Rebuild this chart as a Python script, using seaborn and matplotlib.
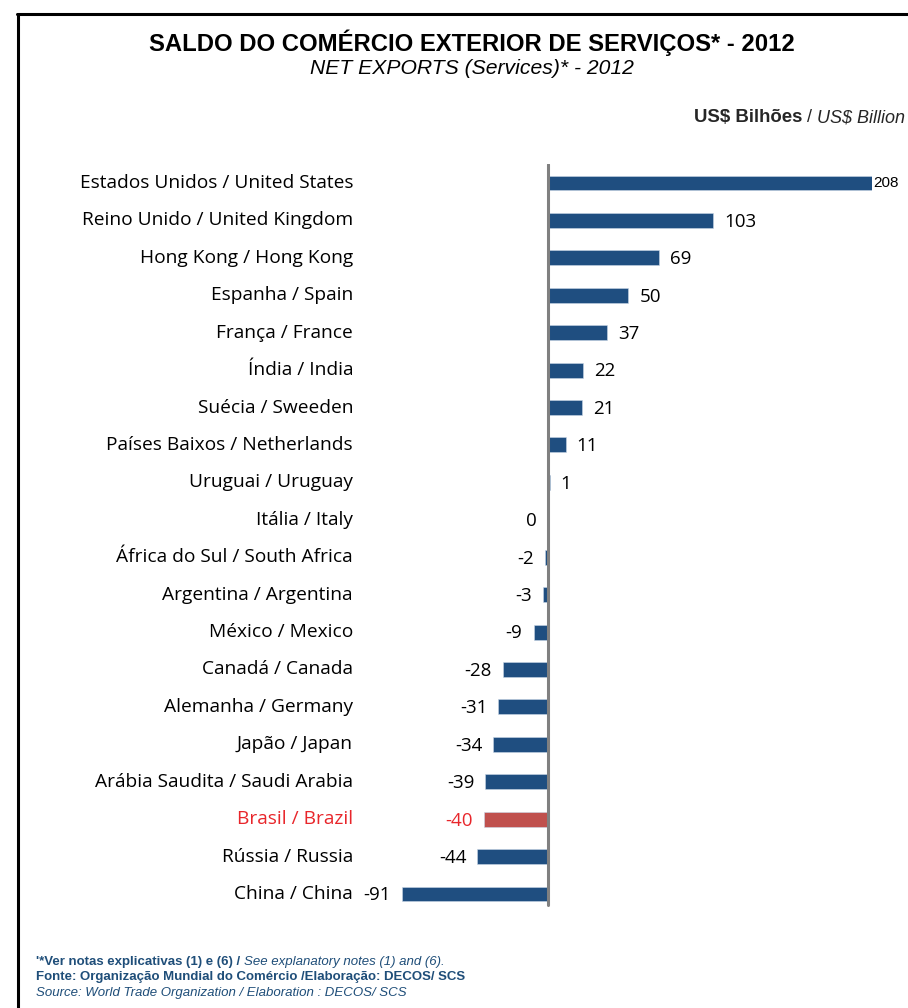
import matplotlib
matplotlib.use("Agg")
import matplotlib.pyplot as plt
import matplotlib.transforms as mtransforms
from matplotlib.lines import Line2D
import numpy as np
import pandas as pd
import seaborn as sns

countries = [
    "Estados Unidos / United States",
    "Reino Unido / United Kingdom",
    "Hong Kong / Hong Kong",
    "Espanha / Spain",
    "França / France",
    "Índia / India",
    "Suécia / Sweeden",
    "Países Baixos / Netherlands",
    "Uruguai / Uruguay",
    "Itália / Italy",
    "África do Sul / South Africa",
    "Argentina / Argentina",
    "México / Mexico",
    "Canadá / Canada",
    "Alemanha / Germany",
    "Japão / Japan",
    "Arábia Saudita / Saudi Arabia",
    "Brasil / Brazil",
    "Rússia / Russia",
    "China / China",
]
values = [208, 103, 69, 50, 37, 22, 21, 11, 1, 0, -2, -3, -9, -28, -31, -34, -39, -40, -44, -91]
highlight = "Brasil / Brazil"

title = "SALDO DO COMÉRCIO EXTERIOR DE SERVIÇOS* - 2012"
subtitle = "NET EXPORTS (Services)* - 2012"
unit_bold = "US$ Bilhões"
unit_sep = " / "
unit_ital = "US$ Billion"
note1_bold = "'*Ver notas explicativas (1) e (6) / "
note1_ital = "See explanatory notes (1) and (6)."
note2 = "Fonte: Organização Mundial do Comércio /Elaboração: DECOS/ SCS"
note3 = "Source: World Trade Organization / Elaboration : DECOS/ SCS"

BLUE = "#1F4E80"
RED_BAR = "#C0504D"
RED_TXT = "#E8262B"
NOTE_BLUE = "#1F4E79"

sns.set_theme(style="white")
plt.rcParams["font.family"] = ["Liberation Sans", "DejaVu Sans"]

W, H = 908, 1008
fig = plt.figure(figsize=(W / 100, H / 100), dpi=100)
fig.patch.set_facecolor("white")


def fx(px):
    return px / W


def fy(py):
    return 1 - py / H


# frame (left + top border)
fig.add_artist(Line2D([fx(18), fx(18)], [fy(14), fy(1010)], transform=fig.transFigure,
                      color="black", lw=2.2))
fig.add_artist(Line2D([fx(17), fx(910)], [fy(14), fy(14)], transform=fig.transFigure,
                      color="black", lw=2.2))

# axes placement: zero at x=548 px
xmin, xmax = -100, 201.7
scale = 1.605
L = 548 + xmin * scale
R = 548 + xmax * scale
top, bot = 164.3, 912.7
ax = fig.add_axes([fx(L), fy(bot), (R - L) / W, (bot - top) / H])

df = pd.DataFrame({"country": countries, "value": values})
df["group"] = np.where(df["country"] == highlight, "hl", "normal")
sns.barplot(data=df, x="value", y="country", hue="group",
            palette={"normal": BLUE, "hl": RED_BAR}, orient="h",
            width=0.40, dodge=False, legend=False, ax=ax, saturation=1,
            edgecolor="#c9d6e6", linewidth=0.4)

ax.set_xlim(xmin, xmax)
ax.set_ylim(len(countries) - 0.5, -0.5)
for s in ax.spines.values():
    s.set_visible(False)
ax.set_xticks([])
ax.set_yticks([])
ax.set_xlabel("")
ax.set_ylabel("")
ax.set_facecolor("none")
ax.axvline(0, color="#808080", lw=2.2, ymin=0.01, ymax=1.0)

# category labels
lab_font = "Open Sans"
trans = mtransforms.blended_transform_factory(fig.transFigure, ax.transData)
for i, c in enumerate(countries):
    col = RED_TXT if c == highlight else "black"
    ax.text(fx(353), i, c, transform=trans, ha="right", va="center",
            fontsize=13.8, color=col, family=lab_font)

# value labels
for i, (c, v) in enumerate(zip(countries, values)):
    col = RED_TXT if c == highlight else "black"
    if v > 0:
        if v > xmax:
            ax.annotate(str(v), (xmax, i), xytext=(1, 0), textcoords="offset points",
                        ha="left", va="center", fontsize=11, color=col,
                        family="Liberation Sans", annotation_clip=False)
        else:
            ax.annotate(str(v), (v, i), xytext=(8, -1), textcoords="offset points",
                        ha="left", va="center", fontsize=13.5, color=col, family=lab_font)
    else:
        ax.annotate(str(v), (v, i), xytext=(-8, -1), textcoords="offset points",
                    ha="right", va="center", fontsize=13.5, color=col, family=lab_font)

# titles
fig.text(fx(472), fy(43), title, ha="center", va="center", fontsize=17.2,
         fontweight="bold", color="black")
fig.text(fx(472), fy(68), subtitle, ha="center", va="center", fontsize=15.2,
         fontstyle="italic", color="black")

# unit line (right aligned, mixed styles)
renderer = fig.canvas.get_renderer()
t3 = fig.text(fx(905), fy(118), unit_ital, ha="right", va="center", fontsize=13,
              fontstyle="italic")
bb = t3.get_window_extent(renderer)
t2 = fig.text(bb.x0 / W, fy(118), unit_sep, ha="right", va="center", fontsize=13)
bb = t2.get_window_extent(renderer)
fig.text(bb.x0 / W, fy(118), unit_bold, ha="right", va="center", fontsize=13.4,
         fontweight="bold")

# footnotes
n1 = fig.text(fx(36), fy(962), note1_bold, ha="left", va="center", fontsize=9.5,
              fontweight="bold", color=NOTE_BLUE)
bb = n1.get_window_extent(renderer)
fig.text(bb.x1 / W, fy(962), note1_ital, ha="left", va="center", fontsize=9.5,
         fontstyle="italic", color=NOTE_BLUE)
fig.text(fx(36), fy(977), note2, ha="left", va="center", fontsize=9.5,
         fontweight="bold", color=NOTE_BLUE)
fig.text(fx(36), fy(993), note3, ha="left", va="center", fontsize=9.5,
         fontstyle="italic", color=NOTE_BLUE)

fig.savefig("out.png", dpi=100)
